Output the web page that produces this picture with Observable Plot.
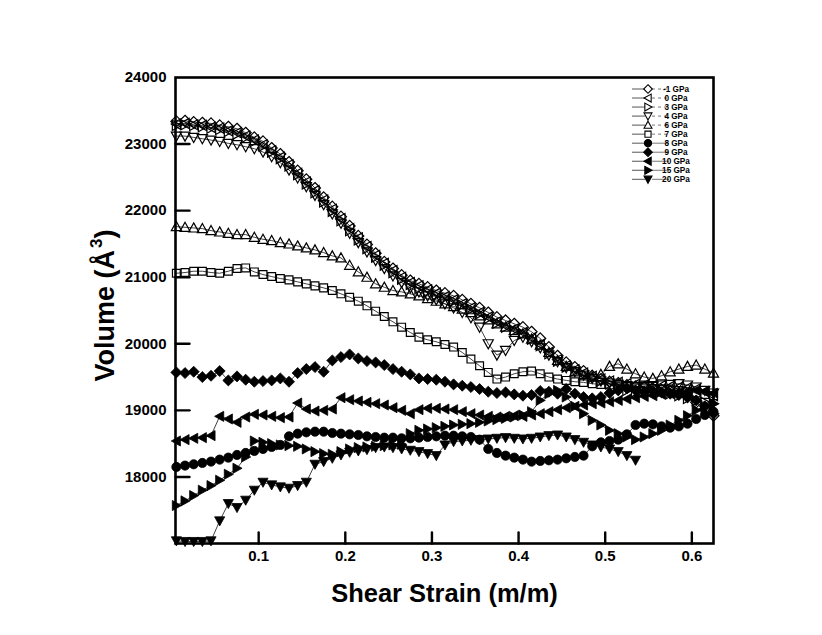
<!DOCTYPE html>
<html>
<head>
<meta charset="utf-8">
<script src="https://cdn.jsdelivr.net/npm/d3@7"></script>
<script src="https://cdn.jsdelivr.net/npm/@observablehq/plot@0.6"></script>
<style>
  html, body { margin: 0; padding: 0; background: #fff; }
  #chart { position: relative; width: 822px; height: 635px; }
</style>
</head>
<body>
<div id="chart"></div>
<script>
// ---- data ----
const strain = [0.005,0.015,0.025,0.035,0.045,0.055,0.065,0.075,0.085,0.095,
  0.105,0.115,0.125,0.135,0.145,0.155,0.165,0.175,0.185,0.195,
  0.205,0.215,0.225,0.235,0.245,0.255,0.265,0.275,0.285,0.295,
  0.305,0.315,0.325,0.335,0.345,0.355,0.365,0.375,0.385,0.395,
  0.405,0.415,0.425,0.435,0.445,0.455,0.465,0.475,0.485,0.495,
  0.505,0.515,0.525,0.535,0.545,0.555,0.565,0.575,0.585,0.595,
  0.605,0.615,0.625];

const volM1 = [23340,23350,23330,23320,23310,23280,23260,23230,23170,23100,
  23040,22940,22850,22730,22600,22470,22340,22200,22060,21910,
  21770,21620,21490,21360,21230,21130,21030,20950,20900,20850,
  20800,20760,20720,20660,20600,20540,20470,20400,20350,20300,
  20250,20180,20080,19950,19820,19720,19650,19590,19520,19470,
  19430,19410,19380,19360,19350,19330,19310,19290,19250,19200,
  19120,19020,18920];
const vol0 = [23300,23310,23290,23280,23250,23240,23200,23170,23120,23060,
  22990,22900,22800,22690,22560,22430,22300,22160,22020,21880,
  21730,21590,21460,21330,21210,21100,21000,20920,20870,20810,
  20760,20710,20660,20600,20540,20470,20400,20330,20270,20220,
  20170,20090,19990,19870,19760,19670,19610,19560,19510,19470,
  19440,19420,19400,19390,19380,19370,19370,19360,19350,19340,
  19320,19280,19220];
const vol3 = [23280,23290,23280,23260,23240,23220,23190,23150,23100,23040,
  22970,22880,22780,22670,22540,22400,22270,22130,21990,21850,
  21700,21560,21430,21300,21180,21070,20970,20890,20830,20780,
  20730,20690,20640,20580,20520,20450,20380,20310,20250,20200,
  20150,20070,19970,19850,19740,19650,19590,19540,19490,19440,
  19400,19350,19300,19280,19290,19300,19280,19250,19220,19180,
  19150,19120,19100];
const vol4 = [23120,23120,23100,23080,23060,23040,23010,22990,22960,22930,
  22880,22810,22720,22610,22490,22360,22230,22090,21950,21810,
  21660,21520,21380,21250,21130,21020,20920,20840,20780,20720,
  20660,20600,20540,20470,20390,20250,20000,19830,19900,20050,
  20100,20030,19940,19830,19730,19640,19580,19530,19480,19440,
  19410,19390,19370,19360,19360,19370,19380,19390,19400,19380,
  19350,19300,19260];
const vol6 = [21760,21750,21740,21730,21700,21680,21660,21640,21640,21600,
  21570,21550,21520,21500,21470,21440,21410,21370,21320,21290,
  21180,21080,21000,20900,20850,20800,20780,20750,20720,20680,
  20640,20600,20560,20520,20470,20420,20360,20300,20250,20200,
  20150,20070,19980,19870,19750,19660,19580,19520,19500,19540,
  19660,19700,19620,19550,19500,19480,19520,19580,19620,19660,
  19680,19620,19560];
const vol7 = [21060,21070,21090,21090,21070,21060,21090,21130,21140,21080,
  21040,21010,20980,20960,20930,20900,20870,20840,20800,20750,
  20700,20640,20570,20490,20410,20330,20250,20170,20100,20060,
  20030,19990,19950,19870,19770,19670,19570,19470,19500,19550,
  19580,19590,19550,19500,19470,19450,19430,19420,19400,19390,
  19380,19370,19360,19350,19340,19330,19320,19310,19300,19280,
  19260,19240,19220];
const vol8 = [18150,18170,18190,18210,18230,18260,18290,18330,18360,18390,
  18420,18450,18480,18610,18650,18670,18680,18680,18660,18650,
  18640,18630,18610,18600,18590,18590,18580,18580,18590,18600,
  18610,18620,18620,18610,18600,18560,18420,18360,18320,18290,
  18260,18230,18240,18250,18260,18280,18300,18320,18460,18520,
  18540,18560,18640,18780,18800,18790,18760,18740,18760,18800,
  18870,18930,18980];
const vol9 = [19570,19560,19580,19500,19520,19590,19450,19510,19460,19430,
  19440,19450,19480,19430,19560,19620,19650,19580,19750,19800,
  19840,19780,19740,19720,19680,19620,19580,19540,19480,19470,
  19460,19430,19390,19370,19350,19320,19280,19260,19270,19240,
  19220,19230,19290,19280,19250,19320,19250,19200,19180,19200,
  19260,19300,19330,19300,19280,19290,19270,19250,19230,19200,
  19150,19060,18950];
const vol10 = [18540,18560,18580,18590,18620,18910,18870,18820,18900,18940,
  18930,18910,18890,18900,19110,19020,18990,19000,19020,19190,
  19160,19140,19120,19100,19080,19040,19000,18950,19010,19030,
  19030,19020,19010,18980,18950,18930,18910,18900,18910,18920,
  18910,18930,18950,18980,19010,19040,19060,19080,19100,19110,
  19130,19150,19170,19190,19210,19220,19240,19250,19270,19280,
  19300,19290,19260];
const vol15 = [17570,17640,17720,17800,17870,17950,18040,18130,18300,18540,
  18520,18500,18480,18470,18460,18420,18380,18350,18340,18380,
  18420,18440,18450,18460,18470,18480,18490,18650,18700,18720,
  18740,18760,18780,18790,18800,18820,18840,18860,18880,18900,
  18930,18980,19150,19250,19300,19200,19060,18950,18850,18780,
  18700,18650,18600,18560,18600,18650,18700,18780,18850,18920,
  19000,19050,19100];
const vol20 = [17040,17030,17030,17030,17040,17340,17600,17540,17650,17800,
  17920,17880,17850,17830,17870,17920,18190,18230,18280,18330,
  18370,18390,18410,18440,18450,18440,18420,18400,18380,18350,
  18320,18480,18530,18540,18550,18560,18570,18580,18590,18580,
  18570,18580,18600,18620,18630,18600,18560,18520,18480,18450,
  18420,18380,18320,18250,null,null,null,null,null,null,
  null,null,null];

const seriesNames = ["-1 GPa","0 GPa","3 GPa","4 GPa","6 GPa","7 GPa","8 GPa","9 GPa","10 GPa","15 GPa","20 GPa"];
const seriesValues = [volM1, vol0, vol3, vol4, vol6, vol7, vol8, vol9, vol10, vol15, vol20];
const seriesShapes = ["diamond","left","right","down","up","square","circle","diamond","left","right","down"];
const seriesFilled = [false,false,false,false,false,false,true,true,true,true,true];

const xDomain = [0.004, 0.625];
const yDomain = [17000, 24000];
const xTicks = [0.1,0.2,0.3,0.4,0.5,0.6];
const yTicks = [18000,19000,20000,21000,22000,23000];
const yLabels = [18000,19000,20000,21000,22000,23000,24000];

// ---- layout ----
const W = 822, H = 635, mL = 175, mR = 109, mT = 77, mB = 92;

// ---- symbols ----
function shape(kind) {
  return {
    draw(c, size) {
      const r = Math.sqrt(size / Math.PI);
      if (kind === "circle") { c.moveTo(r, 0); c.arc(0, 0, r, 0, 2 * Math.PI); return; }
      if (kind === "square") { const h = r * 0.85; c.moveTo(-h, -h); c.lineTo(h, -h); c.lineTo(h, h); c.lineTo(-h, h); c.closePath(); return; }
      if (kind === "diamond") { const s = r * 1.2; c.moveTo(0, -s); c.lineTo(s, 0); c.lineTo(0, s); c.lineTo(-s, 0); c.closePath(); return; }
      const s = r * 1.1, t = s * 0.8;
      if (kind === "up") { c.moveTo(0, -s); c.lineTo(s, t); c.lineTo(-s, t); }
      if (kind === "down") { c.moveTo(0, s); c.lineTo(s, -t); c.lineTo(-s, -t); }
      if (kind === "left") { c.moveTo(-s, 0); c.lineTo(t, -s); c.lineTo(t, s); }
      if (kind === "right") { c.moveTo(s, 0); c.lineTo(-t, -s); c.lineTo(-t, s); }
      c.closePath();
    }
  };
}

const rows = seriesNames.flatMap((name, k) =>
  seriesValues[k].map((v, i) => ({name, k, x: strain[i], y: v})).filter(d => d.y != null));

const lineMarks = seriesNames.map((name, k) =>
  Plot.line(rows.filter(d => d.k === k), {x: "x", y: "y", stroke: "#111", strokeWidth: 0.8}));
const dotMarks = seriesNames.map((name, k) =>
  Plot.dot(rows.filter(d => d.k === k), {
    x: "x", y: "y", r: 4.6,
    symbol: shape(seriesShapes[k]),
    fill: seriesFilled[k] ? "black" : "none",
    stroke: "black",
    strokeWidth: seriesFilled[k] ? 0.8 : 1.2
  }));

// inward tick marks drawn as short vectors anchored to the frame edges
const tickLine = {draw(c, l) { c.moveTo(0, 0); c.lineTo(0, -l); }};

const font = "'Liberation Sans', Arial, sans-serif";
const chart = Plot.plot({
  width: W, height: H,
  marginLeft: mL, marginRight: mR, marginTop: mT, marginBottom: mB,
  style: {fontFamily: font, fontWeight: "bold", fontSize: "15px", background: "white", color: "black"},
  x: {domain: xDomain},
  y: {domain: yDomain},
  marks: [
    ...lineMarks,
    ...dotMarks,
    Plot.vector(xTicks, {x: d => d, frameAnchor: "bottom", length: 11, anchor: "start", shape: tickLine, stroke: "black", strokeWidth: 2.4}),
    Plot.vector(yTicks, {y: d => d, frameAnchor: "left", length: 14, rotate: 90, anchor: "start", shape: tickLine, stroke: "black", strokeWidth: 2.4}),
    Plot.axisX(xTicks, {tickSize: 0, tickPadding: 7, label: null, tickFormat: d => d.toFixed(1)}),
    Plot.axisY(yLabels, {tickSize: 0, tickPadding: 9, label: null, tickFormat: d => String(d)}),
    Plot.frame({stroke: "black", strokeWidth: 2.6, fill: "none"}),
    Plot.text(["Volume (Å3)"], {frameAnchor: "left", dx: -70, dy: -5, rotate: -90, textAnchor: "middle", lineAnchor: "middle", fontSize: 27, fontWeight: "bold"}),
    Plot.text(["Shear Strain (m/m)"], {frameAnchor: "bottom", dy: 50, textAnchor: "middle", lineAnchor: "middle", fontSize: 25.5, fontWeight: "bold"})
  ]
});
document.getElementById("chart").appendChild(chart);
const svg = d3.select(chart);

// superscript for the y label
svg.selectAll("text").filter(function () { return this.textContent === "Volume (Å3)"; }).each(function () {
  const t = d3.select(this);
  t.text(null);
  t.append("tspan").text("Volume (Å");
  t.append("tspan").attr("dx", 2).attr("dy", -12).attr("font-size", 17).text("3");
  t.append("tspan").attr("dy", 12).text(")");
});

// ---- legend (inside frame, top right) ----
const lg = svg.append("g").attr("font-family", font).attr("font-weight", "bold").attr("font-size", 8.2).attr("fill", "black");
seriesNames.forEach((name, k) => {
  const y = 89 + k * 9.03;
  const g = lg.append("g").attr("transform", `translate(0,${y})`);
  g.append("line").attr("x1", 632).attr("x2", 645).attr("y1", 0).attr("y2", 0).attr("stroke", "#555").attr("stroke-width", 1);
  g.append("line").attr("x1", 652).attr("x2", 669).attr("y1", 0).attr("y2", 0).attr("stroke", "#777").attr("stroke-width", 1)
    .attr("stroke-dasharray", seriesFilled[k] ? null : "3,3");
  g.append("path").attr("transform", "translate(648,0)")
    .attr("d", d3.symbol(shape(seriesShapes[k]), Math.PI * 3.6 * 3.6)())
    .attr("fill", seriesFilled[k] ? "black" : "white")
    .attr("stroke", "black").attr("stroke-width", 1.1);
  g.append("text").attr("x", 676).attr("y", 3).text(name);
});
</script>
</body>
</html>
